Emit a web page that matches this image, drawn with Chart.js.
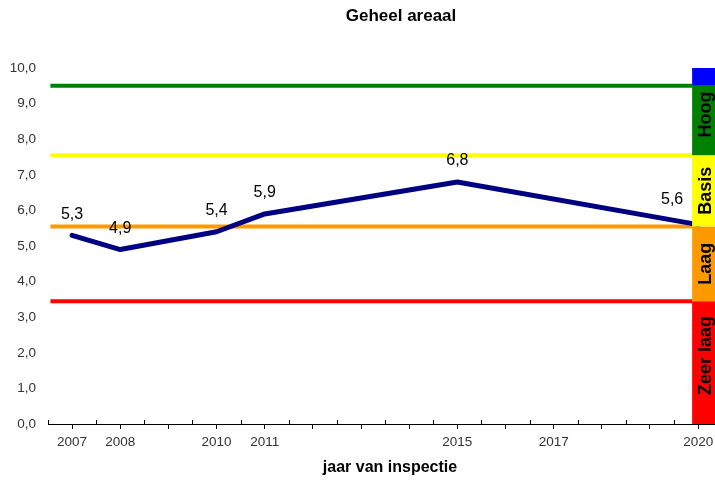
<!DOCTYPE html>
<html>
<head>
<meta charset="utf-8">
<script src="https://cdn.jsdelivr.net/npm/chart.js@4.4.1/dist/chart.umd.min.js"></script>
<style>
  html, body { margin: 0; padding: 0; background: #fff; }
  #wrap { width: 715px; height: 486px; }
</style>
</head>
<body>
<div id="wrap"><canvas id="c" width="715" height="486"></canvas></div>
<script>
// ---- data ----
const chartTitle = 'Geheel areaal';
const xTitle = 'jaar van inspectie';
const years = [2007, 2008, 2010, 2011, 2015, 2020];
const scores = [5.3, 4.9, 5.4, 5.9, 6.8, 5.6];
const labeledYears = [2007, 2008, 2010, 2011, 2015, 2017, 2020];
const thresholdValues = [9.5, 7.55, 5.55, 3.45];
const thresholdColors = ['#008000', '#FFFF00', '#FF9900', '#FF0000'];
const bandEdges = [0, 3.45, 5.55, 7.55, 9.5, 10];
const bandLabels = ['Zeer laag', 'Laag', 'Basis', 'Hoog', ''];
const bandColors = ['#FF0000', '#FF9900', '#FFFF00', '#008000', '#0000FF'];

// ---- layout constants ----
const X_MIN = 2006.5, X_MAX = 2020.35;
const LINE_START = 2006.55, BAND_START = 2019.875;
const BAND_LABEL_SHIFT = [-7, 0, 0, -6, 0];
const FONT = "'Liberation Sans', Arial, sans-serif";
const fmt = v => v.toFixed(1).replace('.', ',');

const thresholdSets = thresholdValues.map((v, i) => ({
  type: 'line',
  data: [{ x: LINE_START, y: v }, { x: BAND_START, y: v }],
  borderColor: thresholdColors[i],
  borderWidth: 4,
  pointRadius: 0,
  order: 2
}));

const mainSet = {
  type: 'line',
  data: years.map((y, i) => ({ x: y, y: scores[i] })),
  borderColor: '#000080',
  borderWidth: 5,
  borderCapStyle: 'round',
  borderJoinStyle: 'round',
  pointRadius: 0,
  order: 1
};

const decorPlugin = {
  id: 'decor',
  afterDatasetsDraw(chart) {
    const ctx = chart.ctx;
    const meta = chart.getDatasetMeta(chart.data.datasets.length - 1);
    ctx.save();
    ctx.font = '16px ' + FONT;
    ctx.fillStyle = '#000';
    ctx.textAlign = 'center';
    ctx.textBaseline = 'middle';
    meta.data.forEach((pt, i) => {
      const last = i === meta.data.length - 1;
      const dx = last ? -26 : 0;
      const dy = last ? -25 : -21;
      ctx.fillText(fmt(scores[i]), pt.x + dx, pt.y + dy);
    });
    ctx.restore();
  },
  afterDraw(chart) {
    const ctx = chart.ctx;
    const xs = chart.scales.x, ys = chart.scales.y;
    const ca = chart.chartArea;
    ctx.save();
    // inner minor ticks at half years
    ctx.strokeStyle = '#000';
    ctx.lineWidth = 1;
    for (let v = X_MIN; v <= 2020; v += 1) {
      const px = Math.round(xs.getPixelForValue(v)) + 0.5;
      ctx.beginPath();
      ctx.moveTo(px, ca.bottom);
      ctx.lineTo(px, ca.bottom - 4);
      ctx.stroke();
    }
    // bands
    const bx = xs.getPixelForValue(BAND_START);
    for (let i = 0; i < bandColors.length; i++) {
      const y0 = ys.getPixelForValue(bandEdges[i]);
      const y1 = ys.getPixelForValue(bandEdges[i + 1]);
      ctx.fillStyle = bandColors[i];
      ctx.fillRect(bx, y1, chart.width - bx, y0 - y1);
      if (bandLabels[i]) {
        ctx.save();
        ctx.translate((bx + chart.width) / 2 + 2, (y0 + y1) / 2 + BAND_LABEL_SHIFT[i]);
        ctx.rotate(-Math.PI / 2);
        ctx.font = 'bold 18px ' + FONT;
        ctx.fillStyle = '#000';
        ctx.textAlign = 'center';
        ctx.textBaseline = 'middle';
        ctx.fillText(bandLabels[i], 0, 0);
        ctx.restore();
      }
    }
    // titles
    ctx.fillStyle = '#000';
    ctx.textAlign = 'center';
    ctx.textBaseline = 'middle';
    ctx.font = 'bold 17px ' + FONT;
    ctx.fillText(chartTitle, 401, 16);
    ctx.font = 'bold 16px ' + FONT;
    ctx.fillText(xTitle, 390, 468);
    ctx.restore();
  }
};

new Chart(document.getElementById('c'), {
  type: 'line',
  data: { datasets: [...thresholdSets, mainSet] },
  options: {
    responsive: false,
    animation: false,
    devicePixelRatio: 1,
    layout: { padding: { top: 68, left: 0, right: 0, bottom: 0 } },
    plugins: { legend: { display: false }, title: { display: false }, tooltip: { enabled: false } },
    scales: {
      x: {
        type: 'linear',
        min: X_MIN,
        max: X_MAX,
        afterBuildTicks(scale) {
          const t = [];
          for (let v = X_MIN; v <= 2020.001; v += 0.5) t.push({ value: v });
          scale.ticks = t;
        },
        afterFit(scale) {
          scale.height = 62;
          scale.paddingLeft = 0;
          scale.paddingRight = 0;
        },
        grid: {
          display: true,
          drawOnChartArea: false,
          drawTicks: true,
          tickLength: 5,
          color: ctx => (ctx.tick && Number.isInteger(ctx.tick.value)) ? '#000' : 'rgba(0,0,0,0)'
        },
        border: { display: true, color: '#000', width: 1 },
        ticks: {
          autoSkip: false,
          maxRotation: 0,
          padding: 5,
          color: '#333',
          font: { family: FONT, size: 13.5 },
          callback: v => labeledYears.includes(v) ? String(v) : ''
        }
      },
      y: {
        min: 0,
        max: 10,
        afterFit(scale) {
          scale.width = 48;
          scale.paddingTop = 0;
          scale.paddingBottom = 0;
        },
        grid: { display: false, drawTicks: false },
        border: { display: false },
        ticks: {
          stepSize: 1,
          padding: 12,
          color: '#333',
          font: { family: FONT, size: 13.5 },
          callback: v => fmt(v)
        }
      }
    }
  },
  plugins: [decorPlugin]
});
</script>
</body>
</html>
